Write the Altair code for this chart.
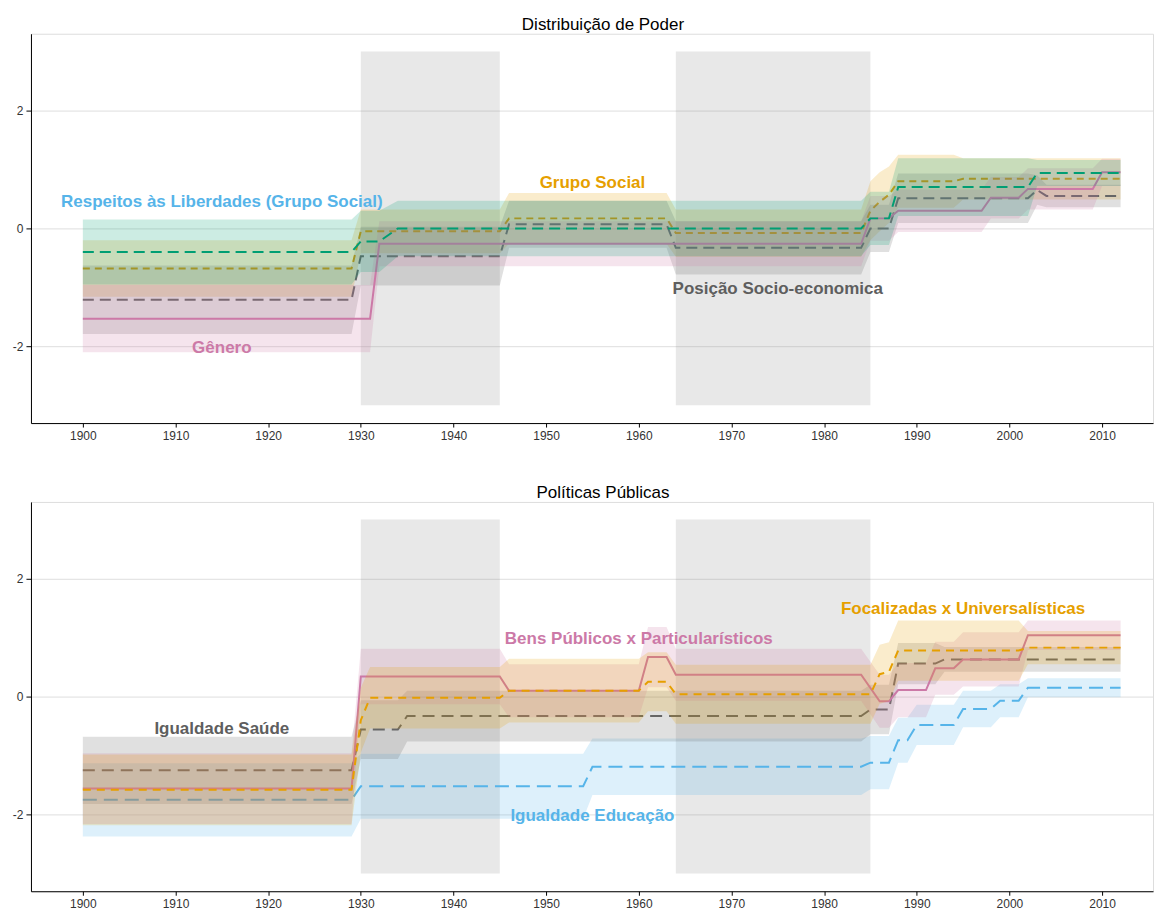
import altair as alt
import pandas as pd

# ---------------- data ----------------
shade_start = [1930, 1964]
shade_end = [1945, 1985]
shade_lo = [-3, -3]
shade_hi = [3, 3]

# --- Panel 1: Distribuição de Poder ---
lib_years = [1900, 1929, 1930, 1932, 1934, 1984, 1985, 1987, 1988, 2002, 2003, 2012]
lib_mean = [-0.40, -0.40, -0.22, -0.22, 0.00, 0.00, 0.17, 0.17, 0.70, 0.70, 0.94, 0.94]
lib_half = [0.55, 0.55, 0.52, 0.52, 0.47, 0.47, 0.45, 0.45, 0.49, 0.49, 0.22, 0.22]

gs_years = [1900, 1929, 1930, 1945, 1946, 1963, 1964, 1984, 1985, 1986, 1987, 1988, 1994, 1995, 2012]
gs_mean = [-0.68, -0.68, -0.05, -0.05, 0.17, 0.17, -0.08, -0.08, 0.30, 0.45, 0.57, 0.80, 0.80, 0.84, 0.84]
gs_half = [0.48, 0.48, 0.37, 0.37, 0.43, 0.43, 0.40, 0.40, 0.50, 0.50, 0.48, 0.45, 0.45, 0.35, 0.35]

pse_years = [1900, 1929, 1930, 1945, 1946, 1963, 1964, 1984, 1985, 1987, 1988, 2002, 2003, 2004, 2012]
pse_mean = [-1.21, -1.21, -0.47, -0.47, 0.07, 0.07, -0.33, -0.33, 0.00, 0.00, 0.51, 0.51, 0.65, 0.55, 0.55]
pse_half = [0.58, 0.58, 0.50, 0.50, 0.40, 0.40, 0.45, 0.45, 0.40, 0.40, 0.42, 0.42, 0.25, 0.19, 0.19]

gen_years = [1900, 1931, 1932, 1984, 1985, 1987, 1988, 1997, 1998, 2001, 2002, 2009, 2010, 2012]
gen_mean = [-1.53, -1.53, -0.26, -0.26, 0.17, 0.17, 0.30, 0.30, 0.52, 0.52, 0.67, 0.67, 0.95, 0.95]
gen_half = [0.57, 0.57, 0.38, 0.38, 0.38, 0.38, 0.36, 0.36, 0.35, 0.35, 0.35, 0.35, 0.23, 0.23]

# --- Panel 2: Políticas Públicas ---
edu_years = [1900, 1929, 1930, 1954, 1955, 1984, 1985, 1987, 1988, 1989, 1990, 1994, 1995, 1998, 1999, 2001, 2002, 2012]
edu_mean = [-1.75, -1.75, -1.52, -1.52, -1.19, -1.19, -1.12, -1.12, -0.74, -0.74, -0.48, -0.48, -0.21, -0.21, -0.07, -0.07, 0.15, 0.15]
edu_half = [0.62, 0.62, 0.55, 0.55, 0.48, 0.48, 0.45, 0.45, 0.38, 0.38, 0.34, 0.34, 0.31, 0.31, 0.28, 0.28, 0.16, 0.16]

sau_years = [1900, 1929, 1930, 1934, 1935, 1984, 1985, 1987, 1988, 1992, 1993, 2012]
sau_mean = [-1.25, -1.25, -0.56, -0.56, -0.33, -0.33, -0.22, -0.22, 0.56, 0.56, 0.63, 0.63]
sau_half = [0.57, 0.57, 0.50, 0.50, 0.43, 0.43, 0.42, 0.42, 0.35, 0.35, 0.21, 0.21]

bens_years = [1900, 1929, 1930, 1945, 1946, 1960, 1961, 1963, 1964, 1984, 1986, 1987, 1988, 1991, 1992, 1994, 1995, 2001, 2002, 2012]
bens_mean = [-1.56, -1.56, 0.34, 0.34, 0.10, 0.10, 0.67, 0.67, 0.37, 0.37, -0.08, -0.08, 0.11, 0.11, 0.48, 0.48, 0.63, 0.63, 1.04, 1.04]
bens_half = [0.60, 0.60, 0.47, 0.47, 0.45, 0.45, 0.51, 0.51, 0.44, 0.44, 0.45, 0.45, 0.46, 0.46, 0.45, 0.45, 0.46, 0.46, 0.25, 0.25]

foc_years = [1900, 1929, 1930, 1931, 1945, 1946, 1960, 1961, 1963, 1964, 1985, 1986, 1987, 1988, 2001, 2002, 2012]
foc_mean = [-1.58, -1.58, -0.40, -0.02, -0.02, 0.10, 0.10, 0.25, 0.25, 0.04, 0.04, 0.38, 0.42, 0.78, 0.78, 0.83, 0.83]
foc_half = [0.60, 0.60, 0.55, 0.52, 0.52, 0.54, 0.54, 0.50, 0.50, 0.50, 0.50, 0.50, 0.50, 0.51, 0.51, 0.28, 0.28]

# labels
top_label_text = ["Respeitos às Liberdades (Grupo Social)", "Grupo Social", "Posição Socio-economica", "Gênero"]
top_label_year = [1915, 1955, 1975, 1915]
top_label_value = [0.45, 0.77, -1.02, -2.03]

bot_label_text = ["Igualdade Saúde", "Bens Públicos x Particularísticos", "Focalizadas x Universalísticas", "Igualdade Educação"]
bot_label_year = [1915, 1960, 1995, 1955]
bot_label_value = [-0.55, 0.97, 1.48, -2.03]

x_ticks = list(range(1900, 2011, 10))
y_ticks = [-2, 0, 2]

# ---------------- styles ----------------
GREEN = "#009E73"
ORANGE = "#E69F00"
GRAY = "#666666"
PINK = "#CC79A7"
BLUE = "#56B4E9"
FONT = "Liberation Sans"

top_label_colors = [BLUE, ORANGE, "#5E5E5E", PINK]
bot_label_colors = ["#5E5E5E", PINK, ORANGE, BLUE]

X_DOMAIN = [1894.4, 2015.5]
Y_DOMAIN = [-3.3, 3.3]
W = 1124
H = 390


def xenc(field, axis=True):
    if axis:
        return alt.X(field, type="quantitative",
                     scale=alt.Scale(domain=X_DOMAIN, nice=False, zero=False),
                     axis=alt.Axis(values=x_ticks, format="d", title=None, grid=False,
                                   tickSize=4, labelPadding=3, labelFontSize=12,
                                   labelFont=FONT, labelColor="#333333",
                                   domainColor="#000000", tickColor="#000000"))
    return alt.X(field, type="quantitative",
                 scale=alt.Scale(domain=X_DOMAIN, nice=False, zero=False))


def yenc(field, axis=True):
    if axis:
        return alt.Y(field, type="quantitative",
                     scale=alt.Scale(domain=Y_DOMAIN, nice=False, zero=False),
                     axis=alt.Axis(values=y_ticks, title=None, grid=True,
                                   labelExpr="toString(datum.value)",
                                   gridColor="#DEDEDE", gridWidth=1,
                                   tickSize=5, labelPadding=3, labelFontSize=12,
                                   labelFont=FONT, labelColor="#333333",
                                   domainColor="#000000", tickColor="#000000",
                                   minExtent=22, maxExtent=22))
    return alt.Y(field, type="quantitative",
                 scale=alt.Scale(domain=Y_DOMAIN, nice=False, zero=False))


def series_df(years, mean, half):
    return pd.DataFrame({
        "year": years,
        "mean": mean,
        "lo": [m - h for m, h in zip(mean, half)],
        "hi": [m + h for m, h in zip(mean, half)],
    })


def panel(series, lab_text, lab_year, lab_value, lab_colors, title):
    shade = pd.DataFrame({"start": shade_start, "end": shade_end,
                          "lo": shade_lo, "hi": shade_hi})
    layers = [
        alt.Chart(shade).mark_rect(color="#808080", opacity=0.18).encode(
            x=xenc("start"), x2="end", y=yenc("lo"), y2="hi")
    ]
    for df, color, dash in series:
        layers.append(
            alt.Chart(df).mark_area(color=color, opacity=0.2).encode(
                x=xenc("year", False), y=yenc("lo", False), y2="hi"))
        line_kwargs = dict(color=color, strokeWidth=2)
        if dash:
            line_kwargs["strokeDash"] = dash
        layers.append(
            alt.Chart(df).mark_line(**line_kwargs).encode(
                x=xenc("year", False), y=yenc("mean", False)))
    lab = pd.DataFrame({"text": lab_text, "year": lab_year,
                        "value": lab_value, "color": lab_colors})
    layers.append(
        alt.Chart(lab).mark_text(font=FONT, fontSize=17, fontWeight="bold",
                                 align="center", baseline="middle").encode(
            x=xenc("year", False), y=yenc("value", False),
            text="text:N", color=alt.Color("color:N", scale=None)))
    return alt.layer(*layers).properties(
        width=W, height=H,
        title=alt.TitleParams(text=title, font=FONT, fontSize=17,
                              fontWeight="normal", color="#000000",
                              anchor="middle", dx=11, offset=0))


top = panel(
    [
        (series_df(gs_years, gs_mean, gs_half), ORANGE, [7, 5]),
        (series_df(pse_years, pse_mean, pse_half), GRAY, [11, 6]),
        (series_df(gen_years, gen_mean, gen_half), PINK, None),
        (series_df(lib_years, lib_mean, lib_half), GREEN, [11, 6]),
    ],
    top_label_text, top_label_year, top_label_value, top_label_colors,
    "Distribuição de Poder")

bottom = panel(
    [
        (series_df(edu_years, edu_mean, edu_half), BLUE, [14, 7]),
        (series_df(sau_years, sau_mean, sau_half), GRAY, [12, 7]),
        (series_df(bens_years, bens_mean, bens_half), PINK, None),
        (series_df(foc_years, foc_mean, foc_half), ORANGE, [8, 6]),
    ],
    bot_label_text, bot_label_year, bot_label_value, bot_label_colors,
    "Políticas Públicas")

chart = alt.vconcat(top, bottom, spacing=41).properties(
    padding={"left": 0, "top": 6, "right": 0, "bottom": 0}
).configure_view(stroke=None).configure(background="white")

chart.save("out.html", embed_options={"renderer": "svg", "actions": False})
